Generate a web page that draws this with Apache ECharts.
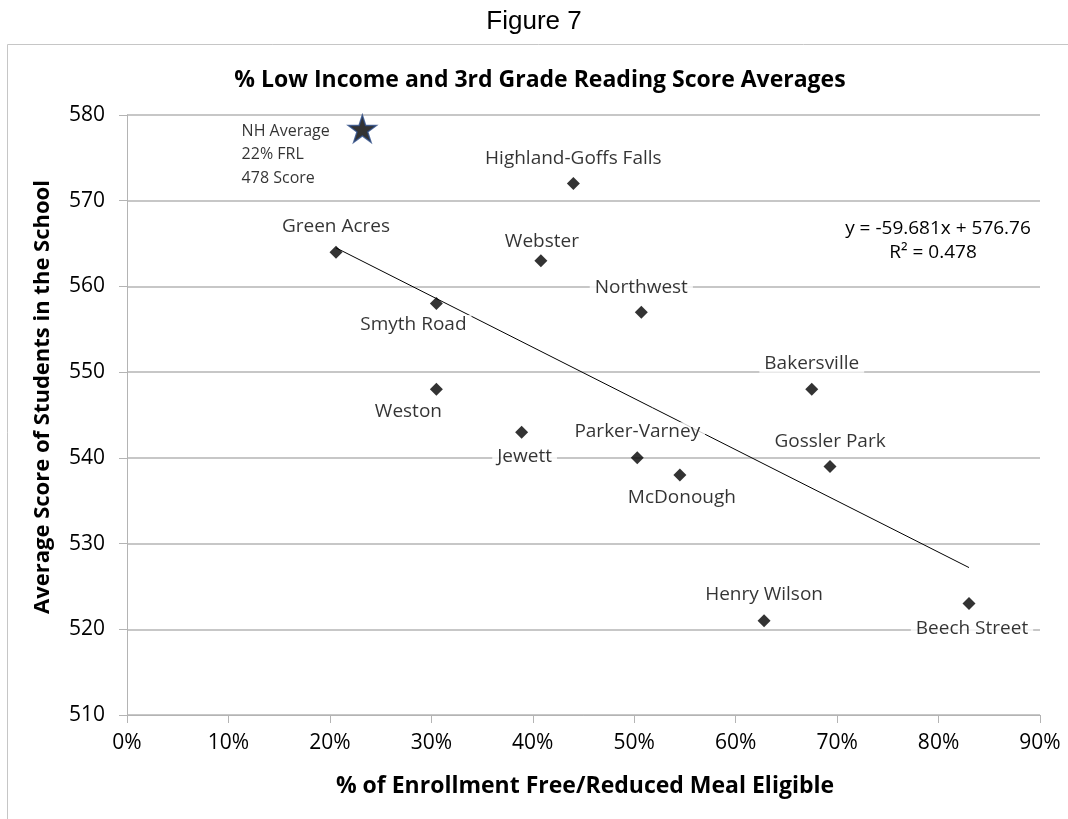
<!DOCTYPE html>
<html>
<head>
<meta charset="utf-8">
<script src="https://cdn.jsdelivr.net/npm/echarts@6/dist/echarts.min.js"></script>
<style>
html,body{margin:0;padding:0;background:#fff;}
#chart{width:1068px;height:819px;}
</style>
</head>
<body>
<div id="chart"></div>
<script>
// ---- data ----
const schools = ['Green Acres','Smyth Road','Weston','Webster','Northwest','Jewett','Parker-Varney','McDonough','Gossler Park','Henry Wilson','Beech Street','Bakersville','Highland-Goffs Falls'];
const pctFRL  = [0.206, 0.305, 0.305, 0.408, 0.507, 0.389, 0.503, 0.545, 0.693, 0.628, 0.830, 0.675, 0.440];
const avgScore = [564, 558, 548, 563, 557, 543, 540, 538, 539, 521, 523, 548, 572];

const nhX = [0.232];
const nhY = [578.4];
const nhLabel = ['NH Average', '22% FRL', '478 Score'];

const trendX = [0.206, 0.830];
const trendY = [564.5, 527.2];
const trendText = ['y = -59.681x + 576.76', 'R\u00B2 = 0.478'];

const xTicks = [0, 0.1, 0.2, 0.3, 0.4, 0.5, 0.6, 0.7, 0.8, 0.9];
const yTicks = [510, 520, 530, 540, 550, 560, 570, 580];

// ---- label placement (style only) ----
const labelOffsets = {
  'Green Acres': [0, -26], 'Smyth Road': [-23, 21], 'Weston': [-28, 22], 'Webster': [1, -19],
  'Northwest': [0, -25], 'Jewett': [3, 24], 'Parker-Varney': [0, -26], 'McDonough': [2, 23],
  'Gossler Park': [0, -25], 'Henry Wilson': [0, -26], 'Beech Street': [3, 25],
  'Bakersville': [0, -26], 'Highland-Goffs Falls': [0, -25]
};

const FONT = "'Open Sans', 'Noto Sans', sans-serif";
const GRID = '#b4b4b4';

const schoolData = schools.map((n, i) => ({
  value: [pctFRL[i], avgScore[i]],
  name: n,
  label: { offset: labelOffsets[n] }
}));

const starPath = 'path://M100,0 L122.45,69.1 L195.1,69.1 L136.3,111.8 L158.8,180.9 L100,138.2 L41.2,180.9 L63.7,111.8 L4.9,69.1 L77.55,69.1 Z';

const chart = echarts.init(document.getElementById('chart'), null, {renderer: 'canvas'});
chart.setOption({
  animation: false,
  backgroundColor: '#fff',
  grid: { left: 127, right: 28, top: 115, bottom: 104 },
  xAxis: {
    type: 'value', min: xTicks[0], max: xTicks[xTicks.length - 1], interval: 0.1,
    axisLine: { show: true, lineStyle: { color: GRID, width: 1 } },
    axisTick: { show: true, length: 8, lineStyle: { color: GRID } },
    splitLine: { show: false },
    axisLabel: { margin: 18, fontFamily: FONT, fontSize: 21, color: '#000',
      formatter: v => Math.round(v * 100) + '%' }
  },
  yAxis: {
    type: 'value', min: yTicks[0], max: yTicks[yTicks.length - 1], interval: 10,
    axisLine: { show: true, lineStyle: { color: GRID, width: 1 } },
    axisTick: { show: true, length: 8, lineStyle: { color: GRID } },
    splitLine: { show: true, lineStyle: { color: GRID, width: 1.5 } },
    axisLabel: { margin: 22, fontFamily: FONT, fontSize: 21, color: '#000' }
  },
  graphic: [
    { type: 'rect', shape: { x: 7.5, y: 44.5, width: 1200, height: 900 }, style: { fill: 'none', stroke: '#c6c6c6', lineWidth: 1 }, z: -10 },
    { type: 'text', x: 534, y: 22, style: { text: 'Figure 7', font: "26px 'Liberation Sans', Arial, sans-serif", fill: '#000', textAlign: 'center', textVerticalAlign: 'middle' } },
    { type: 'text', x: 540, y: 80, style: { text: '% Low Income and 3rd Grade Reading Score Averages', font: "bold 23px " + FONT, fill: '#000', textAlign: 'center', textVerticalAlign: 'middle' } },
    { type: 'text', x: 43, y: 397, rotation: Math.PI / 2, style: { text: 'Average Score of Students in the School', font: "bold 22px " + FONT, fill: '#000', textAlign: 'center', textVerticalAlign: 'middle' } },
    { type: 'text', x: 585, y: 786, style: { text: '% of Enrollment Free/Reduced Meal Eligible', font: "bold 23px " + FONT, fill: '#000', textAlign: 'center', textVerticalAlign: 'middle' } },
    { type: 'text', x: 938, y: 229, style: { text: trendText[0], font: "19px " + FONT, fill: '#000', textAlign: 'center', textVerticalAlign: 'middle' } },
    { type: 'text', x: 933, y: 253, style: { text: trendText[1], font: "19px " + FONT, fill: '#000', textAlign: 'center', textVerticalAlign: 'middle' } }
  ],
  series: [
    {
      type: 'line', data: trendX.map((x, i) => [x, trendY[i]]),
      symbol: 'none', lineStyle: { color: '#000', width: 1 }, z: 1, silent: true
    },
    {
      type: 'scatter', data: schoolData, symbol: 'diamond', symbolSize: 13,
      itemStyle: { color: '#000' }, z: 3,
      label: {
        show: true, position: 'inside', formatter: p => p.name,
        fontFamily: FONT, fontSize: 19, color: '#000',
        backgroundColor: '#fff', padding: [0, 5]
      }
    },
    {
      type: 'scatter', data: nhX.map((x, i) => [x, nhY[i]]), symbol: starPath, symbolSize: [28, 27],
      itemStyle: { color: '#000', borderColor: '#2a4a85', borderWidth: 1.5 }, z: 4,
      label: {
        show: true, position: [-106, 5], align: 'left', verticalAlign: 'top',
        formatter: () => nhLabel.join('\n'), fontFamily: FONT, fontSize: 16, lineHeight: 23.5, color: '#000'
      }
    }
  ]
});
</script>
</body>
</html>
